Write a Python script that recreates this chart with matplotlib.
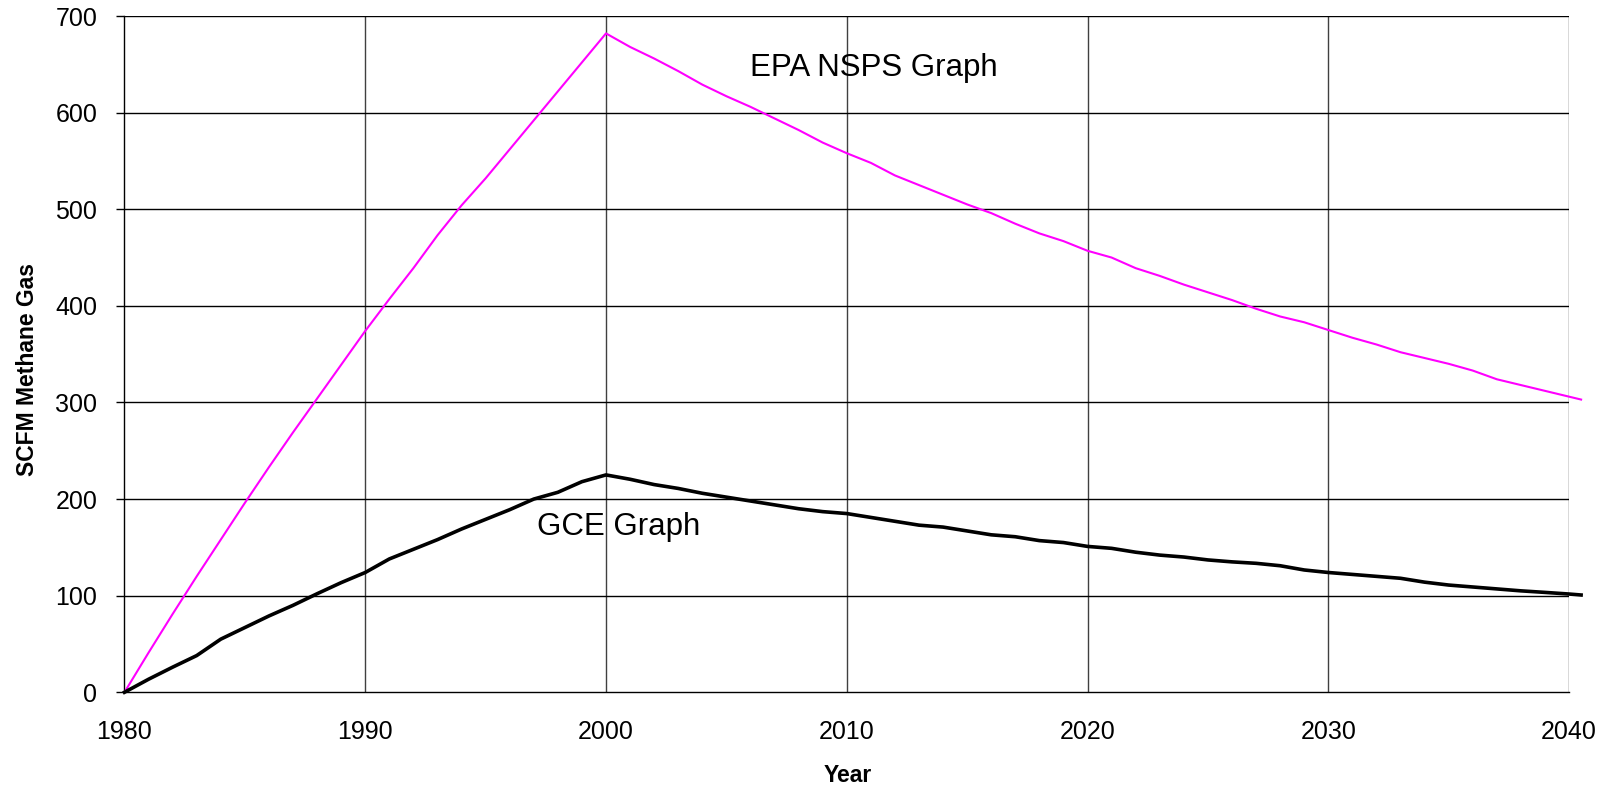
import numpy as np
import matplotlib
matplotlib.use("Agg")
import matplotlib.pyplot as plt

plt.rcParams['font.family'] = ['Liberation Sans', 'DejaVu Sans']

years = list(range(1980, 2041)) + [2040.5]

epa_nsps = [0, 41, 81, 120, 158, 196, 233, 269, 304, 339,
            374, 407, 439, 473, 504, 532, 562, 592, 622, 652,
            682, 668, 656, 643, 629, 617, 606, 594, 582, 569,
            558, 548, 535, 525, 515, 505, 496, 485, 475, 467,
            457, 450, 439, 431, 422, 414, 406, 397, 389, 383,
            375, 367, 360, 352, 346, 340, 333, 324, 318, 312,
            306, 303]

gce = [0, 13.5, 26, 38, 55, 67, 79, 90, 102, 113.5,
       124, 138, 148, 158, 169, 179, 189, 200, 207, 218,
       225, 220.5, 215, 211, 206, 202, 198, 194, 190, 187,
       185, 181, 177, 173, 171, 167, 163, 161, 157, 155,
       151, 149, 145, 142, 140, 137, 135, 133.5, 131, 126.6,
       124, 122, 120, 118, 114, 111, 109, 107, 105, 103.4,
       101.7, 100.7]

x_ticks = [1980, 1990, 2000, 2010, 2020, 2030, 2040]
y_ticks = [0, 100, 200, 300, 400, 500, 600, 700]

fig = plt.figure(figsize=(16.06, 7.93), dpi=100)
ax = fig.add_axes([0.0775, 0.1270, 0.8995, 0.8528])

# grid
for xt in x_ticks[1:]:
    ax.axvline(xt, color='#404040', lw=1.0, zorder=1)
for yt in y_ticks[1:]:
    ax.axhline(yt, color='black', lw=1.0, zorder=1)

ax.plot(years, epa_nsps, color='#FF00FF', lw=1.5, zorder=3, clip_on=False)
ax.plot(years, gce, color='black', lw=2.6, zorder=3, clip_on=False,
        solid_joinstyle='round')

ax.set_xlim(1980, 2040)
ax.set_ylim(0, 700)
ax.set_xticks(x_ticks)
ax.set_yticks(y_ticks)
ax.tick_params(axis='y', length=5.5, width=1.0, pad=14, labelsize=18, color='black')
ax.tick_params(axis='x', length=0, pad=20, labelsize=18)

for s in ['top', 'right']:
    ax.spines[s].set_visible(False)
ax.spines['left'].set_color('black')
ax.spines['bottom'].set_color('black')
ax.spines['left'].set_linewidth(1.0)
ax.spines['bottom'].set_linewidth(1.0)

ax.text(2006.0, 637.6, 'EPA NSPS Graph', fontsize=22.5, ha='left', va='baseline')
ax.text(1997.15, 163.3, 'GCE Graph', fontsize=22.5, ha='left', va='baseline')

fig.text(848 / 1606, 1 - 775 / 793, 'Year', fontsize=16.5, fontweight='bold',
         ha='center', va='center')
fig.text(27.6 / 1606, 1 - 369 / 793, 'SCFM Methane Gas', fontsize=16.5,
         fontweight='bold', ha='center', va='center', rotation=90)

fig.savefig('out.png', dpi=100)
